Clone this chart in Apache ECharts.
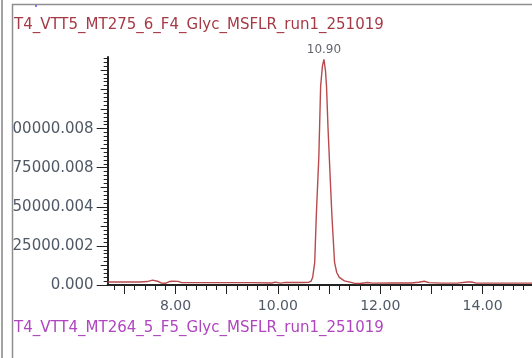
<!DOCTYPE html>
<html>
<head>
<meta charset="utf-8">
<script src="https://cdn.jsdelivr.net/npm/echarts@6/dist/echarts.min.js"></script>
<style>
html,body{margin:0;padding:0;background:#fff;}
#chart{width:532px;height:358px;}
</style>
</head>
<body>
<div id="chart"></div>
<script>
// ---- data ----
var topTitle = 'T4_VTT5_MT275_6_F4_Glyc_MSFLR_run1_251019';
var bottomTitle = 'T4_VTT4_MT264_5_F5_Glyc_MSFLR_run1_251019';
var times = [6.674, 7.0, 7.3, 7.45, 7.55, 7.65, 7.72, 7.8, 7.88, 7.95, 8.05, 8.12, 8.5, 9.0, 9.5, 9.88, 9.95, 10.05, 10.15, 10.3, 10.5, 10.6, 10.65, 10.68, 10.72, 10.75, 10.8, 10.835, 10.87, 10.9, 10.93, 10.95, 10.98, 11.02, 11.056, 11.107, 11.15, 11.2, 11.3, 11.43, 11.5, 11.6, 11.75, 11.85, 12.2, 12.6, 12.75, 12.86, 12.95, 13.2, 13.5, 13.7, 13.78, 13.88, 14.5, 14.965];
var intensity = [1900, 1900, 1900, 2200, 3100, 2400, 1300, 1100, 2200, 2400, 2300, 1500, 1500, 1500, 1500, 1300, 1800, 1200, 1700, 1600, 1600, 1700, 2500, 5000, 14500, 44000, 82000, 127000, 140000, 144300, 137000, 127000, 100000, 70000, 44000, 14500, 8000, 4900, 2600, 1700, 1000, 1000, 1600, 1200, 1300, 1300, 1800, 2400, 1500, 1200, 1200, 1900, 1900, 1200, 1200, 1200];
var peakTimes = [10.90];
var peakHeights = [144300];
var peakLabels = ['10.90'];
var xTickLabelValues = [8, 10, 12, 14];
var xTickLabels = ['8.00', '10.00', '12.00', '14.00'];
var yTickLabelValues = [0, 25000, 50000, 75000, 100000];
var yTickLabels = ['0.000', '25000.002', '50000.004', '75000.008', '100000.008'];

// ---- axis ranges ----
var xMin = 6.674, xMax = 14.965;
var yMin = 0, yMax = 145800;

var xMajorTicks = [];
for (var i = 7; i <= 14; i++) xMajorTicks.push(i);
var xMinorTicks = [];
for (var j = 34; j <= 74; j++) xMinorTicks.push(Math.round(j * 2) / 10);
var yMidTicks = [];
for (var k = 0; k <= 11; k++) yMidTicks.push(k * 12500);
var yMinorTicks = [];
for (var m = 0; m <= 58; m++) yMinorTicks.push(m * 2500);

var seriesData = times.map(function (t, i) { return [t, intensity[i]]; });
var peakData = peakTimes.map(function (t, i) { return { value: [t, peakHeights[i]], name: peakLabels[i] }; });

var FONT = 'DejaVu Sans';
var tickColor = '#222';
var labelColor = '#4f5966';

function xAxisBase() {
  return {
    type: 'value', min: xMin, max: xMax, position: 'bottom', offset: 0,
    splitLine: { show: false }, axisLine: { show: false },
    axisLabel: { show: false }, axisTick: { show: false }
  };
}
function yAxisBase() {
  return {
    type: 'value', min: yMin, max: yMax, position: 'left', offset: 0,
    splitLine: { show: false }, axisLine: { show: false },
    axisLabel: { show: false }, axisTick: { show: false }
  };
}

var x0 = xAxisBase();
x0.axisLine = { show: true, onZero: false, lineStyle: { color: tickColor, width: 2 } };
x0.axisTick = { show: true, customValues: xMajorTicks, length: 9, lineStyle: { color: tickColor, width: 1 } };
x0.axisLabel = {
  show: true, customValues: xTickLabelValues, margin: 14,
  fontFamily: FONT, fontSize: 14, color: labelColor,
  formatter: function (v) { var idx = xTickLabelValues.indexOf(Math.round(v * 100) / 100); return idx >= 0 ? xTickLabels[idx] : ''; }
};
var x1 = xAxisBase();
x1.axisTick = { show: true, customValues: xMinorTicks, length: 5, lineStyle: { color: tickColor, width: 1 } };

var y0 = yAxisBase();
y0.axisLine = { show: true, onZero: false, lineStyle: { color: tickColor, width: 2 } };
y0.axisTick = { show: true, customValues: yTickLabelValues, length: 11, lineStyle: { color: tickColor, width: 1 } };
y0.axisLabel = {
  show: true, customValues: yTickLabelValues, margin: 14,
  fontFamily: FONT, fontSize: 15, color: labelColor,
  formatter: function (v) { var idx = yTickLabelValues.indexOf(Math.round(v)); return idx >= 0 ? yTickLabels[idx] : ''; }
};
var y1 = yAxisBase();
y1.axisTick = { show: true, customValues: yMidTicks, length: 7, lineStyle: { color: tickColor, width: 1 } };
var y2 = yAxisBase();
y2.axisTick = { show: true, customValues: yMinorTicks, length: 4, lineStyle: { color: tickColor, width: 1 } };

var chart = echarts.init(document.getElementById('chart'), null, { renderer: 'canvas' });
chart.setOption({
  animation: false,
  backgroundColor: '#ffffff',
  grid: { left: 104, right: 0, top: 57, bottom: 73, containLabel: false },
  xAxis: [x0, x1],
  yAxis: [y0, y1, y2],
  series: [
    {
      type: 'line', xAxisIndex: 0, yAxisIndex: 0, data: seriesData,
      showSymbol: false, symbol: 'none', clip: true,
      lineStyle: { color: '#b84a4d', width: 1.4 }, z: 3
    },
    {
      type: 'scatter', xAxisIndex: 0, yAxisIndex: 0, data: peakData,
      symbolSize: 0, silent: true,
      label: { show: true, position: 'top', distance: 3, formatter: function (p) { return p.name; },
        fontFamily: FONT, fontSize: 12, color: '#3a3d48' }
    }
  ],
  graphic: [
    { type: 'rect', z: 100, shape: { x: 0, y: 0, width: 13, height: 358 }, style: { fill: '#ffffff' } },
    { type: 'rect', z: 100, shape: { x: 0, y: 0, width: 532, height: 4 }, style: { fill: '#ffffff' } },
    { type: 'line', z: 101, shape: { x1: 2, y1: 0, x2: 2, y2: 358 }, style: { stroke: '#a3a3a3', lineWidth: 2 } },
    { type: 'line', z: 101, shape: { x1: 12.5, y1: 4, x2: 12.5, y2: 358 }, style: { stroke: '#8e8e8e', lineWidth: 1.5 } },
    { type: 'line', z: 101, shape: { x1: 12, y1: 4.5, x2: 532, y2: 4.5 }, style: { stroke: '#8e8e8e', lineWidth: 1.5 } },
    { type: 'rect', z: 102, shape: { x: 35, y: 5, width: 2, height: 2 }, style: { fill: '#7a7aff' } },
    { type: 'text', z: 101, x: 14, y: 25, style: { text: topTitle, fontFamily: FONT, fontSize: 15, fill: '#a53a45', verticalAlign: 'middle', align: 'left' } },
    { type: 'text', z: 101, x: 14, y: 328, style: { text: bottomTitle, fontFamily: FONT, fontSize: 15, fill: '#b045c0', verticalAlign: 'middle', align: 'left' } }
  ]
});
</script>
</body>
</html>
